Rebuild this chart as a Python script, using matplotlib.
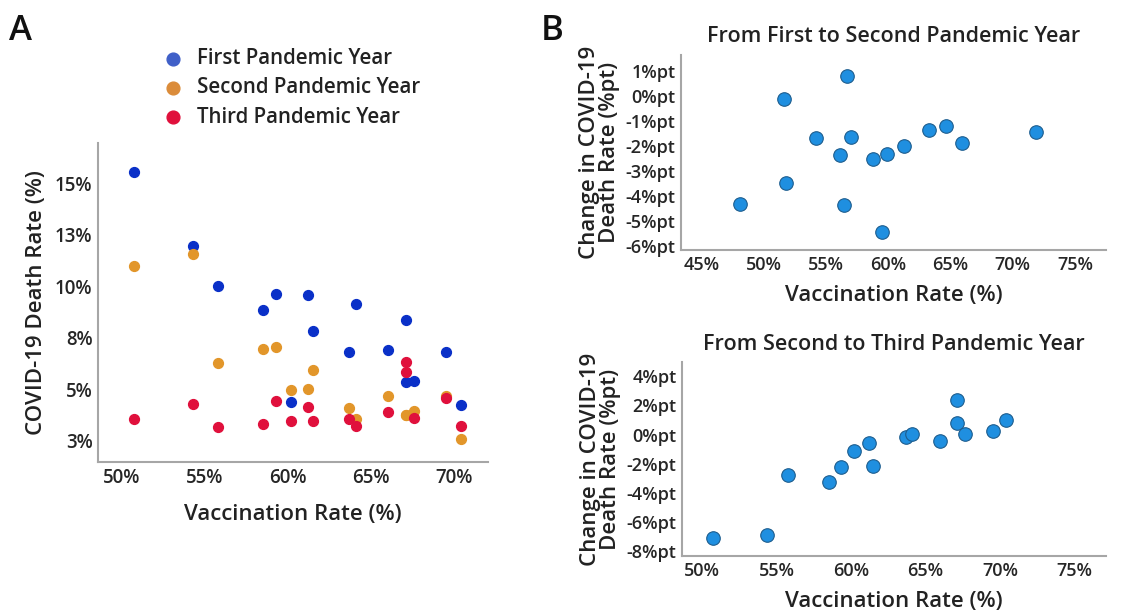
import numpy as np
import matplotlib
matplotlib.use("Agg")
import matplotlib.pyplot as plt

plt.rcParams['font.family'] = ['Open Sans', 'DejaVu Sans']
plt.rcParams['font.weight'] = 'semibold'
plt.rcParams['axes.labelweight'] = 'semibold'
plt.rcParams['axes.titleweight'] = 'semibold'

# panel A: death rate per pandemic year vs vaccination rate
vacc_a = [50.7, 54.3, 55.8, 58.5, 59.3, 60.2, 61.2, 61.5, 63.7, 64.1, 66.0, 67.1, 67.1, 67.6, 69.5, 70.4]
first_year = [15.55, 11.94, 10.01, 8.86, 9.64, 4.38, 9.59, 7.84, 6.81, 9.15, 6.92, 8.38, 5.37, 5.40, 6.79, 4.26]
second_year = [11.0, 11.55, 6.29, 6.95, 7.03, 4.96, 5.03, 5.96, 4.09, 3.55, 4.69, 3.76, 3.76, 3.96, 4.67, 2.60]
third_year = [3.55, 4.31, 3.20, 3.34, 4.46, 3.49, 4.14, 3.49, 3.57, 3.23, 3.88, 6.31, 5.82, 3.63, 4.60, 3.23]
a_yticks = [2.5, 5, 7.5, 10, 12.5, 15]
a_yticklabels = ['3%', '5%', '8%', '10%', '13%', '15%']
a_xticks = [50, 55, 60, 65, 70]

# panel B top: change from first to second year
vacc_b1 = [48.05, 51.62, 51.72, 54.19, 56.06, 56.38, 56.65, 56.97, 58.74, 59.89, 59.47, 61.26, 63.24, 64.66, 65.89, 71.87]
change_b1 = [-4.32, -0.15, -3.49, -1.70, -2.37, -4.35, 0.78, -1.66, -2.52, -2.31, -5.42, -2.02, -1.37, -1.22, -1.88, -1.45]
b1_yticks = [-6, -5, -4, -3, -2, -1, 0, 1]
b1_xticks = [45, 50, 55, 60, 65, 70, 75]

# panel B bottom: change from second to third year
vacc_b2 = [50.74, 54.33, 55.80, 58.50, 59.31, 60.20, 61.23, 61.50, 63.68, 64.08, 65.98, 67.08, 67.08, 67.61, 69.49, 70.38]
change_b2 = [-7.13, -6.93, -2.77, -3.27, -2.24, -1.10, -0.55, -2.13, -0.16, 0.05, -0.43, 2.40, 0.80, 0.05, 0.27, 0.98]
b2_yticks = [-8, -6, -4, -2, 0, 2, 4]
b2_xticks = [50, 55, 60, 65, 70, 75]

W, H = 1126, 614
fig = plt.figure(figsize=(W / 100, H / 100), dpi=100)


def px_axes(left, top, right, bottom):
    return fig.add_axes([left / W, 1 - bottom / H, (right - left) / W, (bottom - top) / H])


def style(ax, size):
    for s in ['top', 'right']:
        ax.spines[s].set_visible(False)
    for s in ['left', 'bottom']:
        ax.spines[s].set_color('#a6a6a6')
        ax.spines[s].set_linewidth(1.5)
    ax.tick_params(length=0, labelsize=size, colors='#262626', pad=4)


# ---- panel A
axA = px_axes(98, 143, 488, 462)
style(axA, 13.5)
axA.scatter(vacc_a, first_year, s=50, color='#0a30c8', label='First Pandemic Year', zorder=3)
axA.scatter(vacc_a, second_year, s=50, color='#e2962a', label='Second Pandemic Year', zorder=3)
axA.scatter(vacc_a, third_year, s=50, color='#e0103c', label='Third Pandemic Year', zorder=3)
axA.set_xlim(48.55, 72.05)
axA.set_ylim(1.48, 16.94)
axA.set_xticks(a_xticks)
axA.set_xticklabels([f'{v}%' for v in a_xticks])
axA.set_yticks(a_yticks)
axA.set_yticklabels(a_yticklabels)
axA.set_xlabel('Vaccination Rate (%)', fontsize=16, labelpad=12, color='#222222')
axA.set_ylabel('COVID-19 Death Rate (%)', fontsize=16, labelpad=6, color='#222222')
leg = axA.legend(loc='upper left', bbox_to_anchor=(144 / W, 1 - 40 / H), bbox_transform=fig.transFigure,
                 frameon=False, handletextpad=0.2, labelspacing=0.4,
                 markerscale=1.3, borderaxespad=0, prop={'size': 14.8, 'weight': 'semibold'})
for h, c in zip(leg.legend_handles, ['#4060c8', '#db8c3a', '#e0103c']):
    h.set_color(c)
for t in leg.get_texts():
    t.set_color('#222222')
fig.text(9 / W, 1 - 40 / H, 'A', fontsize=25, ha='left', va='baseline', color='#111111')
fig.text(541 / W, 1 - 40 / H, 'B', fontsize=25, ha='left', va='baseline', color='#111111')

# ---- panel B top
axB1 = px_axes(681, 55, 1106, 250)
style(axB1, 13)
axB1.scatter(vacc_b1, change_b1, s=95, color='#1f8fe0', edgecolors='#1d5d8e', linewidths=0.8, zorder=3)
axB1.set_xlim(43.3, 77.5)
axB1.set_ylim(-6.14, 1.62)
axB1.set_xticks(b1_xticks)
axB1.set_xticklabels([f'{v}%' for v in b1_xticks])
axB1.set_yticks(b1_yticks)
axB1.set_yticklabels([f'{v}%pt' for v in b1_yticks])
axB1.set_title('From First to Second Pandemic Year', fontsize=15.5, pad=9, color='#222222')
axB1.set_xlabel('Vaccination Rate (%)', fontsize=16, labelpad=8, color='#222222')
axB1.set_ylabel('Change in COVID-19\nDeath Rate (%pt)', fontsize=16, labelpad=4, linespacing=0.9,
                color='#222222')

# ---- panel B bottom
axB2 = px_axes(682, 362, 1106, 556)
style(axB2, 13)
axB2.scatter(vacc_b2, change_b2, s=95, color='#1f8fe0', edgecolors='#1d5d8e', linewidths=0.8, zorder=3)
axB2.set_xlim(48.66, 77.1)
axB2.set_ylim(-8.34, 4.98)
axB2.set_xticks(b2_xticks)
axB2.set_xticklabels([f'{v}%' for v in b2_xticks])
axB2.set_yticks(b2_yticks)
axB2.set_yticklabels([f'{v}%pt' for v in b2_yticks])
axB2.set_title('From Second to Third Pandemic Year', fontsize=15.5, pad=9, color='#222222')
axB2.set_xlabel('Vaccination Rate (%)', fontsize=16, labelpad=8, color='#222222')
axB2.set_ylabel('Change in COVID-19\nDeath Rate (%pt)', fontsize=16, labelpad=4, linespacing=0.9,
                color='#222222')

fig.savefig('out.png', dpi=100)
